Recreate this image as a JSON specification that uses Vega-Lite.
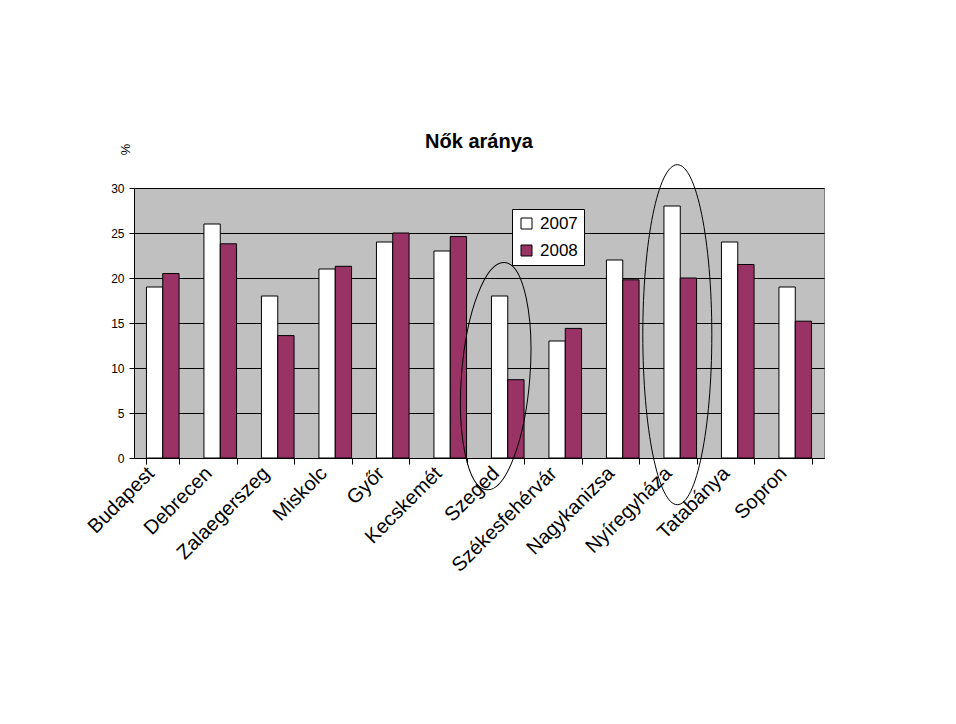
{
  "$schema": "https://vega.github.io/schema/vega-lite/v6.json",
  "autosize": "none",
  "width": 690,
  "height": 270,
  "padding": {"left": 134, "top": 188, "right": 132, "bottom": 266},
  "background": "white",
  "config": {
    "font": "Liberation Sans",
    "view": {"fill": "#C0C0C0", "stroke": "#808080", "strokeWidth": 1}
  },
  "title": {
    "text": "Nők aránya",
    "font": "Liberation Sans",
    "fontSize": 20,
    "fontWeight": "bold",
    "color": "black",
    "anchor": "middle",
    "frame": "group",
    "offset": 43,
    "dy": 52
  },
  "datasets": {
    "bars": [
      {"city": "Budapest", "year": "2007", "value": 19},
      {"city": "Budapest", "year": "2008", "value": 20.5},
      {"city": "Debrecen", "year": "2007", "value": 26},
      {"city": "Debrecen", "year": "2008", "value": 23.8},
      {"city": "Zalaegerszeg", "year": "2007", "value": 18},
      {"city": "Zalaegerszeg", "year": "2008", "value": 13.6},
      {"city": "Miskolc", "year": "2007", "value": 21},
      {"city": "Miskolc", "year": "2008", "value": 21.3},
      {"city": "Győr", "year": "2007", "value": 24},
      {"city": "Győr", "year": "2008", "value": 25},
      {"city": "Kecskemét", "year": "2007", "value": 23},
      {"city": "Kecskemét", "year": "2008", "value": 24.6},
      {"city": "Szeged", "year": "2007", "value": 18},
      {"city": "Szeged", "year": "2008", "value": 8.7},
      {"city": "Székesfehérvár", "year": "2007", "value": 13},
      {"city": "Székesfehérvár", "year": "2008", "value": 14.4},
      {"city": "Nagykanizsa", "year": "2007", "value": 22},
      {"city": "Nagykanizsa", "year": "2008", "value": 19.8},
      {"city": "Nyíregyháza", "year": "2007", "value": 28},
      {"city": "Nyíregyháza", "year": "2008", "value": 20},
      {"city": "Tatabánya", "year": "2007", "value": 24},
      {"city": "Tatabánya", "year": "2008", "value": 21.5},
      {"city": "Sopron", "year": "2007", "value": 19},
      {"city": "Sopron", "year": "2008", "value": 15.2}
    ],
    "highlights": [
      {"city": "Szeged", "center": 9.1},
      {"city": "Nyíregyháza", "center": 13.7}
    ]
  },
  "layer": [
    {
      "data": {"name": "bars"},
      "mark": {"type": "bar", "stroke": "black", "strokeWidth": 1},
      "encoding": {
        "x": {
          "field": "city",
          "type": "nominal",
          "sort": null,
          "scale": {"paddingInner": 0.433, "paddingOuter": 0.2165},
          "axis": {
            "title": null,
            "labelAngle": -45,
            "labelAlign": "right",
            "labelBaseline": "middle",
            "labelFontSize": 20,
            "labelColor": "black",
            "labelPadding": 6,
            "labelOffset": -12,
            "tickBand": "extent",
            "tickSize": 6,
            "tickColor": "black",
            "domainColor": "black",
            "labelOverlap": false
          }
        },
        "xOffset": {"field": "year", "type": "nominal", "scale": {"paddingInner": 0, "paddingOuter": 0}},
        "y": {
          "field": "value",
          "type": "quantitative",
          "scale": {"domain": [0, 30], "nice": false},
          "axis": {
            "values": [0, 5, 10, 15, 20, 25, 30],
            "title": "%",
            "titleAngle": 90,
            "titleX": -10,
            "titleY": -39,
            "titleFontSize": 13,
            "titleFontWeight": "normal",
            "titleColor": "black",
            "titleAlign": "center",
            "titleBaseline": "middle",
            "labelFontSize": 12,
            "labelColor": "black",
            "labelPadding": 5,
            "tickSize": 5,
            "tickColor": "black",
            "domainColor": "black",
            "gridColor": "black",
            "gridOpacity": 1
          }
        },
        "fill": {
          "field": "year",
          "type": "nominal",
          "scale": {"domain": ["2007", "2008"], "range": ["#FFFFFF", "#993366"]},
          "legend": {
            "title": null,
            "orient": "none",
            "legendX": 378,
            "legendY": 21,
            "fillColor": "white",
            "strokeColor": "black",
            "padding": 6,
            "labelFontSize": 17,
            "labelColor": "black",
            "symbolType": "square",
            "symbolSize": 121,
            "symbolStrokeColor": "black",
            "symbolStrokeWidth": 1,
            "rowPadding": 9,
            "labelOffset": 5
          }
        }
      }
    },
    {
      "data": {"name": "highlights"},
      "transform": [{"filter": "datum.city === 'Szeged'"}],
      "mark": {
        "type": "point",
        "filled": false,
        "stroke": "black",
        "strokeWidth": 1,
        "opacity": 1,
        "shape": "M0,-1A0.3,1,0,1,1,0,1A0.3,1,0,1,1,0,-1Z",
        "size": 51984,
        "angle": 4.5
      },
      "encoding": {
        "x": {"field": "city", "type": "nominal", "sort": null, "bandPosition": 0.13},
        "y": {"field": "center", "type": "quantitative"}
      }
    },
    {
      "data": {"name": "highlights"},
      "transform": [{"filter": "datum.city === 'Nyíregyháza'"}],
      "mark": {
        "type": "point",
        "filled": false,
        "stroke": "black",
        "strokeWidth": 1,
        "opacity": 1,
        "shape": "M0,-1A0.203,1,0,1,1,0,1A0.203,1,0,1,1,0,-1Z",
        "size": 115600
      },
      "encoding": {
        "x": {"field": "city", "type": "nominal", "sort": null, "bandPosition": 0.41},
        "y": {"field": "center", "type": "quantitative"}
      }
    }
  ]
}
